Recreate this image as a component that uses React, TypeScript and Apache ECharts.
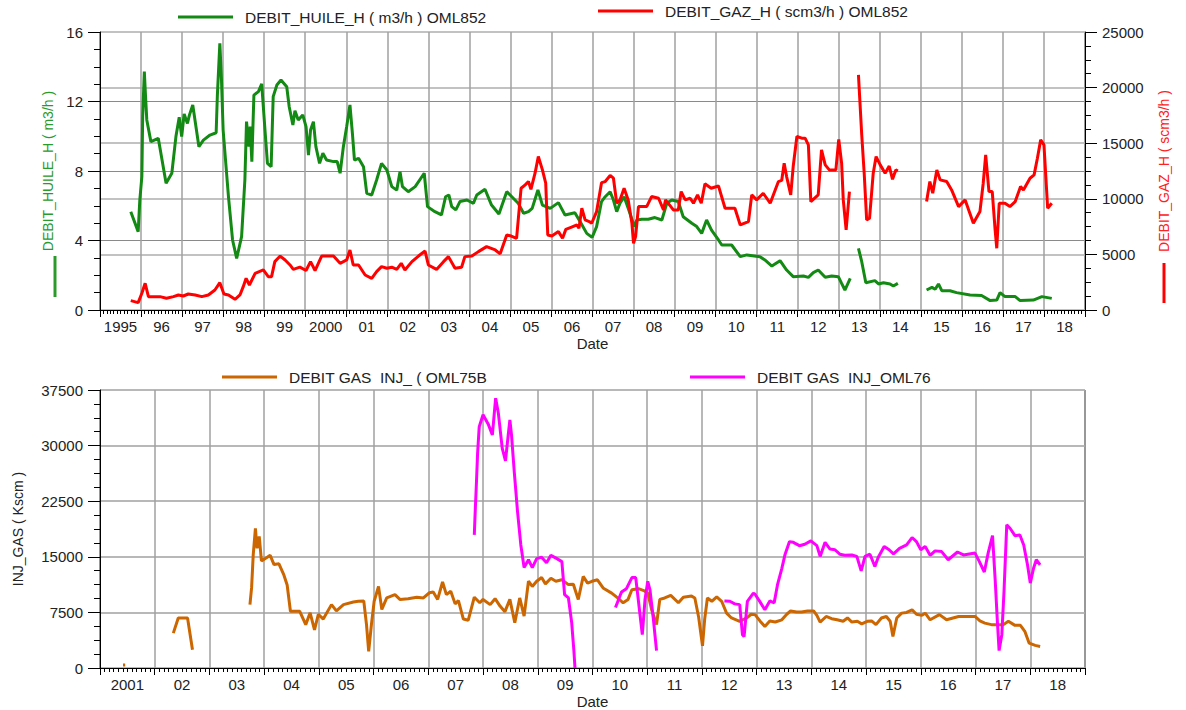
import React, { useEffect, useRef } from 'react';
import * as echarts from 'echarts';

type Pt = [number, number] | null;

const topYearLabels = ['1995', '96', '97', '98', '99', '2000', '01', '02', '03', '04', '05', '06', '07', '08', '09', '10', '11', '12', '13', '14', '15', '16', '17', '18'];
const bottomYearLabels = ['2001', '02', '03', '04', '05', '06', '07', '08', '09', '10', '11', '12', '13', '14', '15', '16', '17', '18'];

const oilName = 'DEBIT_HUILE_H ( m3/h ) OML852';
const gasName = 'DEBIT_GAZ_H ( scm3/h ) OML852';
const inj75Name = 'DEBIT GAS  INJ_ ( OML75B';
const inj76Name = 'DEBIT GAS  INJ_OML76';

const oilData: Pt[] = [
  [1995.75, 5.66], [1995.93, 4.51], [1995.97, 6.33], [1996.02, 7.67], [1996.04, 11.13], [1996.08, 13.72], [1996.11, 12.28], [1996.14, 10.94], [1996.24, 9.69], [1996.42, 9.88], [1996.61, 7.29], [1996.75, 7.87], [1996.85, 9.98], [1996.93, 11.09], [1996.99, 9.98], [1997.05, 11.28], [1997.13, 10.74], [1997.18, 11.23], [1997.26, 11.8], [1997.41, 9.4], [1997.52, 9.78], [1997.68, 10.07], [1997.83, 10.2], [1997.86, 12.37], [1997.92, 15.35], [1997.96, 13.24], [1998.0, 10.36], [1998.13, 6.52], [1998.23, 4.03], [1998.33, 2.97], [1998.45, 4.22], [1998.53, 7.48], [1998.57, 10.84], [1998.63, 9.4], [1998.66, 10.55], [1998.7, 8.54], [1998.75, 12.37], [1998.86, 12.57], [1998.94, 13.01], [1999.02, 10.36], [1999.08, 8.44], [1999.17, 8.25], [1999.22, 12.28], [1999.31, 12.95], [1999.41, 13.24], [1999.55, 12.85], [1999.61, 11.7], [1999.7, 10.65], [1999.75, 11.47], [1999.83, 10.94], [1999.94, 11.23], [2000.02, 10.55], [2000.08, 8.92], [2000.13, 10.36], [2000.2, 10.84], [2000.26, 9.4], [2000.35, 8.44], [2000.43, 9.02], [2000.52, 8.63], [2000.69, 8.54], [2000.78, 8.54], [2000.85, 7.87], [2000.93, 9.4], [2001.01, 10.55], [2001.09, 11.8], [2001.15, 10.17], [2001.2, 8.63], [2001.3, 8.73], [2001.42, 8.25], [2001.5, 6.71], [2001.62, 6.62], [2001.74, 7.48], [2001.86, 8.44], [2001.99, 8.06], [2002.11, 7.1], [2002.23, 6.9], [2002.31, 7.96], [2002.37, 7.1], [2002.51, 6.81], [2002.68, 7.1], [2002.9, 7.87], [2002.98, 5.95], [2003.16, 5.66], [2003.32, 5.47], [2003.42, 6.52], [2003.5, 6.62], [2003.57, 5.95], [2003.67, 5.76], [2003.77, 6.24], [2003.94, 6.33], [2004.1, 6.14], [2004.18, 6.62], [2004.38, 6.95], [2004.54, 6.04], [2004.72, 5.53], [2004.91, 6.81], [2005.07, 6.43], [2005.19, 6.14], [2005.32, 5.57], [2005.44, 5.66], [2005.53, 5.85], [2005.67, 6.91], [2005.78, 6.04], [2005.97, 5.85], [2006.17, 6.18], [2006.33, 5.47], [2006.57, 5.6], [2006.7, 5.08], [2006.86, 4.41], [2006.99, 4.18], [2007.1, 4.8], [2007.22, 6.24], [2007.31, 6.52], [2007.43, 6.81], [2007.51, 6.33], [2007.59, 5.66], [2007.67, 6.14], [2007.77, 6.52], [2007.87, 5.85], [2008.02, 4.8], [2008.08, 5.18], [2008.2, 5.22], [2008.36, 5.22], [2008.52, 5.32], [2008.69, 5.18], [2008.81, 6.14], [2008.93, 6.33], [2009.09, 6.24], [2009.21, 5.37], [2009.42, 4.99], [2009.54, 4.8], [2009.66, 4.41], [2009.78, 5.18], [2009.9, 4.6], [2010.07, 4.03], [2010.15, 3.74], [2010.39, 3.74], [2010.6, 3.07], [2010.76, 3.17], [2011.08, 3.07], [2011.2, 2.88], [2011.37, 2.53], [2011.57, 2.84], [2011.73, 2.3], [2011.89, 1.92], [2012.14, 1.96], [2012.26, 1.88], [2012.38, 2.15], [2012.5, 2.3], [2012.67, 1.88], [2012.83, 1.96], [2012.99, 1.92], [2013.07, 1.53], [2013.15, 1.15], [2013.28, 1.82],
  null,
  [2013.48, 3.55], [2013.56, 2.78], [2013.66, 1.57], [2013.88, 1.69], [2013.97, 1.5], [2014.09, 1.57], [2014.25, 1.5], [2014.33, 1.38], [2014.44, 1.53],
  null,
  [2015.14, 1.15], [2015.27, 1.3], [2015.35, 1.19], [2015.43, 1.5], [2015.51, 1.11], [2015.71, 1.11], [2015.87, 1.0], [2016.2, 0.86], [2016.48, 0.83], [2016.69, 0.54], [2016.85, 0.57], [2016.93, 1.0], [2017.05, 0.77], [2017.3, 0.77], [2017.42, 0.54], [2017.74, 0.57], [2017.95, 0.77], [2018.19, 0.67],
];

const gasData: Pt[] = [
  [1995.75, 840], [1995.93, 660], [1996.02, 1500], [1996.1, 2400], [1996.18, 1200], [1996.46, 1200], [1996.62, 1050], [1996.79, 1200], [1996.91, 1350], [1997.03, 1260], [1997.15, 1440], [1997.32, 1350], [1997.48, 1200], [1997.64, 1350], [1997.8, 1800], [1997.92, 2460], [1998.02, 1440], [1998.13, 1350], [1998.29, 960], [1998.41, 1350], [1998.49, 2100], [1998.56, 2850], [1998.64, 2250], [1998.78, 3300], [1998.98, 3600], [1999.1, 3000], [1999.18, 3000], [1999.26, 4350], [1999.39, 4850], [1999.51, 4500], [1999.63, 4050], [1999.71, 3650], [1999.87, 3850], [2000.02, 3550], [2000.13, 4350], [2000.24, 3550], [2000.4, 4850], [2000.69, 4850], [2000.85, 4200], [2001.01, 4500], [2001.09, 5400], [2001.17, 4050], [2001.3, 4050], [2001.46, 3150], [2001.62, 2850], [2001.74, 3450], [2001.86, 3900], [2001.99, 3750], [2002.11, 3850], [2002.23, 3650], [2002.34, 4200], [2002.43, 3600], [2002.6, 4350], [2002.76, 4850], [2002.92, 5300], [2003.0, 4050], [2003.2, 3650], [2003.37, 4350], [2003.49, 4800], [2003.65, 3750], [2003.81, 3850], [2003.89, 4800], [2004.06, 4850], [2004.22, 5250], [2004.42, 5700], [2004.63, 5400], [2004.75, 5050], [2004.91, 6750], [2005.02, 6650], [2005.15, 6450], [2005.26, 10950], [2005.36, 11250], [2005.44, 11550], [2005.5, 10850], [2005.6, 12300], [2005.68, 13800], [2005.78, 12600], [2005.86, 11400], [2005.91, 6750], [2006.01, 6650], [2006.17, 7050], [2006.27, 6450], [2006.35, 7250], [2006.49, 7450], [2006.62, 7650], [2006.67, 7350], [2006.74, 9150], [2006.82, 8100], [2006.92, 7950], [2006.98, 7800], [2007.1, 8850], [2007.22, 11450], [2007.31, 11550], [2007.43, 12100], [2007.51, 11850], [2007.59, 9600], [2007.67, 9900], [2007.77, 10950], [2007.87, 9900], [2007.96, 7800], [2008.0, 6000], [2008.05, 6600], [2008.12, 9300], [2008.32, 9300], [2008.44, 10200], [2008.61, 10050], [2008.73, 9000], [2008.78, 9900], [2008.97, 9000], [2009.09, 9000], [2009.16, 10650], [2009.26, 9900], [2009.38, 10050], [2009.46, 9600], [2009.56, 10350], [2009.65, 9600], [2009.74, 11350], [2009.89, 10950], [2010.07, 11150], [2010.23, 9150], [2010.47, 9150], [2010.6, 7650], [2010.8, 7950], [2010.88, 10350], [2011.0, 9900], [2011.16, 10500], [2011.33, 9600], [2011.53, 11550], [2011.61, 11650], [2011.67, 13200], [2011.73, 12000], [2011.83, 10350], [2011.89, 12900], [2011.98, 15600], [2012.1, 15450], [2012.18, 15450], [2012.26, 14850], [2012.32, 9750], [2012.5, 10350], [2012.58, 14400], [2012.67, 13050], [2012.77, 12600], [2012.93, 12600], [2013.0, 15350], [2013.07, 13200], [2013.11, 9900], [2013.18, 7200], [2013.26, 10650],
  null,
  [2013.48, 21150], [2013.5, 19800], [2013.56, 15750], [2013.62, 12300], [2013.68, 8100], [2013.75, 8250], [2013.84, 12300], [2013.91, 13800], [2014.01, 13050], [2014.13, 12300], [2014.23, 12950], [2014.31, 11750], [2014.39, 12600], [2014.44, 12500],
  null,
  [2015.14, 9750], [2015.22, 11550], [2015.29, 10500], [2015.39, 12600], [2015.47, 11700], [2015.63, 11550], [2015.75, 10800], [2015.92, 9300], [2016.08, 9900], [2016.28, 7800], [2016.44, 8850], [2016.52, 11400], [2016.58, 13950], [2016.66, 10650], [2016.74, 10650], [2016.81, 7200], [2016.85, 5550], [2016.91, 9600], [2017.05, 9600], [2017.17, 9300], [2017.3, 9750], [2017.43, 11100], [2017.5, 10800], [2017.66, 11850], [2017.76, 12150], [2017.84, 13650], [2017.92, 15300], [2018.0, 14850], [2018.05, 11700], [2018.09, 9150], [2018.19, 9600],
];

const inj75Data: Pt[] = [
  [2001.42, 420], [2001.46, 420],
  null,
  [2002.34, 4700], [2002.43, 6750], [2002.6, 6750], [2002.69, 2450],
  null,
  [2003.74, 8550], [2003.77, 10800], [2003.8, 15250], [2003.84, 18850], [2003.87, 16150], [2003.91, 17750], [2003.95, 14450], [2004.05, 14900], [2004.11, 15200], [2004.18, 13950], [2004.27, 14050], [2004.36, 12550], [2004.42, 11200], [2004.48, 7650], [2004.65, 7650], [2004.76, 5850], [2004.84, 7450], [2004.92, 5150], [2004.99, 7250], [2005.08, 6600], [2005.23, 8550], [2005.32, 7700], [2005.45, 8550], [2005.63, 8900], [2005.72, 9000], [2005.82, 9050], [2005.87, 5850], [2005.91, 2250], [2005.96, 5850], [2006.01, 9000], [2006.09, 11000], [2006.15, 7900], [2006.24, 9450], [2006.39, 9900], [2006.48, 9250], [2006.63, 9350], [2006.79, 9550], [2006.91, 9450], [2007.02, 10150], [2007.09, 10250], [2007.17, 9250], [2007.26, 11600], [2007.33, 9900], [2007.41, 10350], [2007.49, 8650], [2007.55, 9100], [2007.64, 6600], [2007.73, 6450], [2007.84, 9550], [2007.94, 8800], [2008.0, 9250], [2008.13, 8550], [2008.22, 9350], [2008.31, 8350], [2008.4, 7600], [2008.49, 9250], [2008.58, 6100], [2008.67, 9450], [2008.75, 7000], [2008.83, 11700], [2008.9, 11000], [2008.98, 11700], [2009.07, 12200], [2009.14, 11350], [2009.24, 12100], [2009.33, 11700], [2009.44, 11900], [2009.56, 11250], [2009.65, 11300], [2009.74, 9250], [2009.83, 12350], [2009.91, 11450], [2009.99, 11700], [2010.09, 11900], [2010.2, 10750], [2010.35, 10100], [2010.46, 9450], [2010.56, 8800], [2010.65, 9250], [2010.72, 10550], [2010.84, 10700], [2010.95, 10400], [2011.01, 10100], [2011.08, 7900], [2011.17, 5850], [2011.23, 9250], [2011.32, 9450], [2011.43, 9800], [2011.57, 8800], [2011.66, 9550], [2011.81, 9700], [2011.87, 9450], [2011.94, 6850], [2012.01, 3000], [2012.05, 6600], [2012.1, 9450], [2012.18, 9000], [2012.27, 9600], [2012.36, 9000], [2012.45, 7400], [2012.54, 6750], [2012.69, 6300], [2012.82, 6750], [2012.9, 7250], [2012.97, 7200], [2013.06, 6350], [2013.15, 5600], [2013.24, 6350], [2013.34, 6200], [2013.46, 6500], [2013.55, 7250], [2013.62, 7700], [2013.73, 7550], [2013.82, 7550], [2013.93, 7700], [2014.04, 7700], [2014.1, 7100], [2014.16, 6200], [2014.27, 6950], [2014.37, 6650], [2014.47, 6500], [2014.58, 6300], [2014.66, 6750], [2014.74, 6200], [2014.84, 6300], [2014.92, 5950], [2015.02, 6300], [2015.1, 6350], [2015.18, 5850], [2015.28, 6750], [2015.37, 6950], [2015.44, 6300], [2015.49, 4250], [2015.56, 6750], [2015.65, 7400], [2015.74, 7500], [2015.84, 7850], [2015.92, 7250], [2016.02, 7100], [2016.08, 7400], [2016.17, 6500], [2016.34, 7200], [2016.47, 6500], [2016.69, 6950], [2016.99, 6950], [2017.08, 6350], [2017.17, 6050], [2017.29, 5850], [2017.51, 5850], [2017.6, 6300], [2017.72, 5750], [2017.82, 5750], [2017.9, 4950], [2017.98, 3350], [2018.09, 3050], [2018.18, 2900],
];

const inj76Data: Pt[] = [
  [2007.84, 17950], [2007.86, 21750], [2007.88, 25150], [2007.9, 28950], [2007.93, 32550], [2008.0, 34150], [2008.1, 32800], [2008.17, 31450], [2008.23, 36400], [2008.28, 34350], [2008.35, 29650], [2008.41, 27950], [2008.46, 31450], [2008.49, 33450], [2008.52, 31450], [2008.57, 26500], [2008.63, 21100], [2008.69, 16600], [2008.75, 13550], [2008.83, 14600], [2008.9, 13550], [2008.98, 14750], [2009.07, 14950], [2009.16, 14200], [2009.24, 15200], [2009.35, 14750], [2009.44, 14350], [2009.49, 9900], [2009.56, 9450], [2009.62, 6100], [2009.66, 2300], [2009.68, 0],
  null,
  [2010.42, 8150], [2010.53, 10250], [2010.62, 10700], [2010.72, 12200], [2010.79, 12200], [2010.84, 9000], [2010.91, 4500], [2010.96, 9250], [2011.01, 11700], [2011.05, 10550], [2011.11, 6750], [2011.17, 2350],
  null,
  [2012.41, 9050], [2012.51, 9000], [2012.6, 8650], [2012.69, 8550], [2012.74, 4500], [2012.77, 4250], [2012.83, 9000], [2012.94, 10100], [2012.97, 9950], [2013.05, 9050], [2013.15, 7850], [2013.24, 9050], [2013.32, 8800], [2013.38, 11200], [2013.46, 13450], [2013.52, 15350], [2013.6, 17050], [2013.67, 16950], [2013.78, 16500], [2013.88, 16700], [2013.99, 17150], [2014.1, 16500], [2014.16, 15050], [2014.25, 16950], [2014.34, 16050], [2014.43, 15950], [2014.52, 15350], [2014.61, 15200], [2014.74, 15250], [2014.83, 15050], [2014.91, 13100], [2014.98, 15050], [2015.07, 15350], [2015.16, 13700], [2015.22, 14900], [2015.33, 16400], [2015.42, 15950], [2015.5, 15400], [2015.61, 16150], [2015.74, 16600], [2015.84, 17600], [2015.92, 17050], [2016.0, 15950], [2016.08, 16400], [2016.17, 15200], [2016.26, 15800], [2016.38, 15700], [2016.5, 14600], [2016.67, 15650], [2016.78, 15250], [2016.99, 15500], [2017.07, 14350], [2017.16, 12950], [2017.23, 15500], [2017.31, 17850], [2017.36, 11700], [2017.4, 6100], [2017.43, 2350], [2017.48, 4500], [2017.52, 10350], [2017.57, 19300], [2017.63, 18850], [2017.72, 17850], [2017.81, 17950], [2017.88, 16600], [2017.95, 13900], [2018.0, 11450], [2018.06, 13450], [2018.11, 14600], [2018.18, 13900],
];

const FONT = "'Liberation Sans', Arial, Helvetica, sans-serif";
const TXT = '#222';
const OIL_COLOR = '#138a13';
const GAS_COLOR = '#ff0000';
const INJ75_COLOR = '#cc6600';
const INJ76_COLOR = '#ff00ff';

function prep(arr: Pt[]) {
  return arr.map((p) => (p === null ? ['-', '-'] : p));
}

export default function App() {
  const ref = useRef<HTMLDivElement>(null);

  useEffect(() => {
    if (!ref.current) return;
    const chart = echarts.init(ref.current, null, { renderer: 'svg' });

    const valueX = (gridIndex: number, min: number, max: number) => ({
      type: 'value',
      gridIndex,
      min,
      max,
      interval: 1,
      position: 'bottom',
      axisLine: { show: true, onZero: false, lineStyle: { color: '#000', width: 1 } },
      axisTick: { show: true, length: 7, lineStyle: { color: '#000', width: 1 } },
      minorTick: { show: true, splitNumber: 12, length: 4, lineStyle: { color: '#000', width: 1 } },
      axisLabel: { show: false },
      splitLine: { show: true, lineStyle: { color: '#a0a0a0', width: 1.5 } },
      name: 'Date',
      nameLocation: 'middle',
      nameGap: 26,
      nameTextStyle: { color: TXT, fontSize: 15, fontFamily: FONT },
    });

    const labelX = (gridIndex: number, data: string[]) => ({
      type: 'category',
      gridIndex,
      data,
      position: 'bottom',
      boundaryGap: true,
      axisLine: { show: false },
      axisTick: { show: false },
      splitLine: { show: false },
      axisLabel: { interval: 0, margin: 9, color: TXT, fontSize: 15, fontFamily: FONT },
    });

    const yBase = {
      type: 'value',
      axisLine: { show: true, onZero: false, lineStyle: { color: '#000', width: 1 } },
      axisTick: { show: true, length: 12, lineStyle: { color: '#000', width: 1 } },
      minorTick: { show: true, splitNumber: 4, length: 6, lineStyle: { color: '#000', width: 1 } },
      axisLabel: { margin: 17, color: TXT, fontSize: 15, fontFamily: FONT, formatter: (v: number) => String(v) },
      nameLocation: 'middle',
      nameRotate: 90,
    };

    const legendBase = {
      orient: 'horizontal',
      padding: 0,
      icon: 'rect',
      itemWidth: 55,
      itemHeight: 3,
      itemGap: 0,
      selectedMode: false,
      textStyle: { color: TXT, fontSize: 15.5, fontFamily: FONT, padding: [0, 0, 0, 7] },
    };

    const lineSeries = (name: string, data: Pt[], color: string, xAxisIndex: number, yAxisIndex: number) => ({
      type: 'line',
      name,
      data: prep(data),
      xAxisIndex,
      yAxisIndex,
      symbol: 'none',
      connectNulls: false,
      lineStyle: { color, width: 3 },
      itemStyle: { color },
    });

    chart.setOption({
      animation: false,
      backgroundColor: '#fff',
      textStyle: { fontFamily: FONT },
      grid: [
        { left: 100, top: 32, width: 985, height: 278, show: true, borderColor: '#000', borderWidth: 1, backgroundColor: 'transparent' },
        { left: 100, top: 390, width: 985, height: 278, show: true, borderColor: '#000', borderWidth: 1, backgroundColor: 'transparent' },
      ],
      legend: [
        { ...legendBase, data: [oilName], left: 178, top: 9 },
        { ...legendBase, data: [gasName], left: 598, top: 3 },
        { ...legendBase, data: [inj75Name], left: 222, top: 369 },
        { ...legendBase, data: [inj76Name], left: 690, top: 369 },
      ],
      xAxis: [
        valueX(0, 1995, 2019),
        labelX(0, topYearLabels),
        valueX(1, 2001, 2019),
        labelX(1, bottomYearLabels),
      ],
      yAxis: [
        {
          ...yBase,
          gridIndex: 0,
          position: 'left',
          min: 0,
          max: 16,
          interval: 4,
          splitLine: { show: true, lineStyle: { color: '#8a8a8a', width: 1 } },
          name: 'DEBIT_HUILE_H ( m3/h )',
          nameGap: 38,
          nameTextStyle: { color: '#2a9a2a', fontSize: 14, fontFamily: FONT },
        },
        {
          ...yBase,
          gridIndex: 0,
          position: 'right',
          min: 0,
          max: 25000,
          interval: 5000,
          splitLine: { show: true, lineStyle: { color: '#c2c2c2', width: 2 } },
          name: 'DEBIT_GAZ_H ( scm3/h )',
          nameGap: 72,
          nameTextStyle: { color: '#ff2020', fontSize: 14, fontFamily: FONT },
        },
        {
          ...yBase,
          gridIndex: 1,
          position: 'left',
          min: 0,
          max: 37500,
          interval: 7500,
          splitLine: { show: true, lineStyle: { color: '#b8b8b8', width: 2 } },
          name: 'INJ_GAS ( Kscm )',
          nameGap: 75,
          nameTextStyle: { color: TXT, fontSize: 14, fontFamily: FONT },
        },
      ],
      series: [
        lineSeries(oilName, oilData, OIL_COLOR, 0, 0),
        lineSeries(gasName, gasData, GAS_COLOR, 0, 1),
        lineSeries(inj75Name, inj75Data, INJ75_COLOR, 2, 2),
        lineSeries(inj76Name, inj76Data, INJ76_COLOR, 2, 2),
      ],
      graphic: [
        { type: 'line', shape: { x1: 55, y1: 256, x2: 55, y2: 297 }, style: { stroke: '#2a9a2a', lineWidth: 3 } },
        { type: 'line', shape: { x1: 1164, y1: 263, x2: 1164, y2: 303 }, style: { stroke: '#ff0000', lineWidth: 3 } },
      ],
    });

    return () => {
      chart.dispose();
    };
  }, []);

  return <div ref={ref} style={{ position: 'fixed', left: 0, top: 0, width: 1186, height: 710 }} />;
}
